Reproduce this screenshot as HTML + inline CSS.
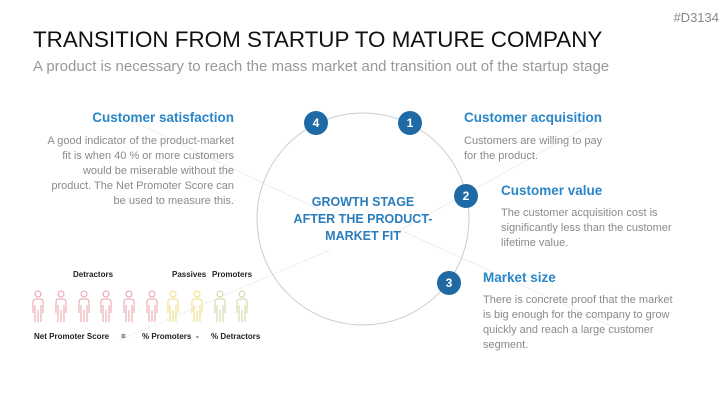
<!DOCTYPE html>
<html><head><meta charset="utf-8"><style>
body{margin:0;width:727px;height:409px;background:#fff;position:relative;overflow:hidden;font-family:"Liberation Sans",sans-serif}
.a{position:absolute;white-space:nowrap}
.h{color:#2a86c8;font-weight:bold;font-size:13.5px}
.b{color:#8a8a8a;font-size:11px;line-height:15px}
.s{font-size:8px;font-weight:bold;color:#222}
</style></head><body>
<div class="a" style="right:8px;top:10px;color:#888;font-size:13px">#D3134</div>
<div class="a" style="left:33px;top:27px;font-size:22.4px;color:#111">TRANSITION FROM STARTUP TO MATURE COMPANY</div>
<div class="a" style="left:33px;top:58px;font-size:15px;color:#999">A product is necessary to reach the mass market and transition out of the startup stage</div>
<svg class="a" style="left:0;top:0" width="727" height="409">
<g stroke="#eee" stroke-width="1"><line x1="130" y1="120" x2="320" y2="210"/><line x1="400" y1="230" x2="600" y2="120"/><line x1="400" y1="230" x2="620" y2="330"/><line x1="120" y1="340" x2="330" y2="250"/></g>
<circle cx="363" cy="219" r="106" fill="none" stroke="#ccc" stroke-width="1"/>
<g fill="#1f6aa5"><circle cx="316" cy="123" r="12"/><circle cx="410" cy="123" r="12"/><circle cx="466" cy="196" r="12"/><circle cx="449" cy="283" r="12"/></g>
<g fill="#fff" font-family="Liberation Sans" font-weight="bold" font-size="12" text-anchor="middle"><text x="316" y="127">4</text><text x="410" y="127">1</text><text x="466" y="200">2</text><text x="449" y="287">3</text></g>
<g fill="#2a7dbc" font-family="Liberation Sans" font-weight="bold" font-size="12.5" text-anchor="middle"><text x="363" y="206">GROWTH STAGE</text><text x="363" y="223">AFTER THE PRODUCT-</text><text x="363" y="240">MARKET FIT</text></g>
<g fill="none" stroke-width="1">
<g stroke="#e8a0a8">
<g id="p"><circle cx="38" cy="294" r="3"/><path d="M33 313 V302 Q33 299 36 299 H40 Q43 299 43 302 V313 M35 305 V322 M41 305 V322 M38 310 V322"/></g>
<use href="#p" x="23"/><use href="#p" x="46"/><use href="#p" x="68"/><use href="#p" x="91"/><use href="#p" x="114"/></g>
<g stroke="#f2dc7a"><use href="#p" x="135" style="stroke:#f2dc7a"/><use href="#p" x="159" style="stroke:#f2dc7a"/></g>
</g>
</svg>
<svg class="a" style="left:0;top:0" width="727" height="409"><g fill="none" stroke="#c8d8a0">
<g transform="translate(182,0)"><circle cx="38" cy="294" r="3"/><path d="M33 313 V302 Q33 299 36 299 H40 Q43 299 43 302 V313 M35 305 V322 M41 305 V322 M38 310 V322"/></g>
<g transform="translate(204,0)"><circle cx="38" cy="294" r="3"/><path d="M33 313 V302 Q33 299 36 299 H40 Q43 299 43 302 V313 M35 305 V322 M41 305 V322 M38 310 V322"/></g>
</g></svg>
<div class="a s" style="left:73px;top:270px">Detractors</div>
<div class="a s" style="left:172px;top:270px">Passives</div>
<div class="a s" style="left:212px;top:270px">Promoters</div>
<div class="a s" style="left:34px;top:332px">Net Promoter Score</div>
<div class="a s" style="left:121px;top:332px">=</div>
<div class="a s" style="left:142px;top:332px">% Promoters</div>
<div class="a s" style="left:196px;top:332px">-</div>
<div class="a s" style="left:211px;top:332px">% Detractors</div>
<div class="a h" style="right:493px;top:110px">Customer satisfaction</div>
<div class="a b" style="right:493px;top:134px;text-align:right">A good indicator of the product-market<br>fit is when 40 % or more customers<br>would be miserable without the<br>product. The Net Promoter Score can<br>be used to measure this.</div>
<div class="a h" style="left:464px;top:110px">Customer acquisition</div>
<div class="a b" style="left:464px;top:134px">Customers are willing to pay<br>for the product.</div>
<div class="a h" style="left:501px;top:183px">Customer value</div>
<div class="a b" style="left:501px;top:206px">The customer acquisition cost is<br>significantly less than the customer<br>lifetime value.</div>
<div class="a h" style="left:483px;top:270px">Market size</div>
<div class="a b" style="left:483px;top:293px">There is concrete proof that the market<br>is big enough for the company to grow<br>quickly and reach a large customer<br>segment.</div>
</body></html>
